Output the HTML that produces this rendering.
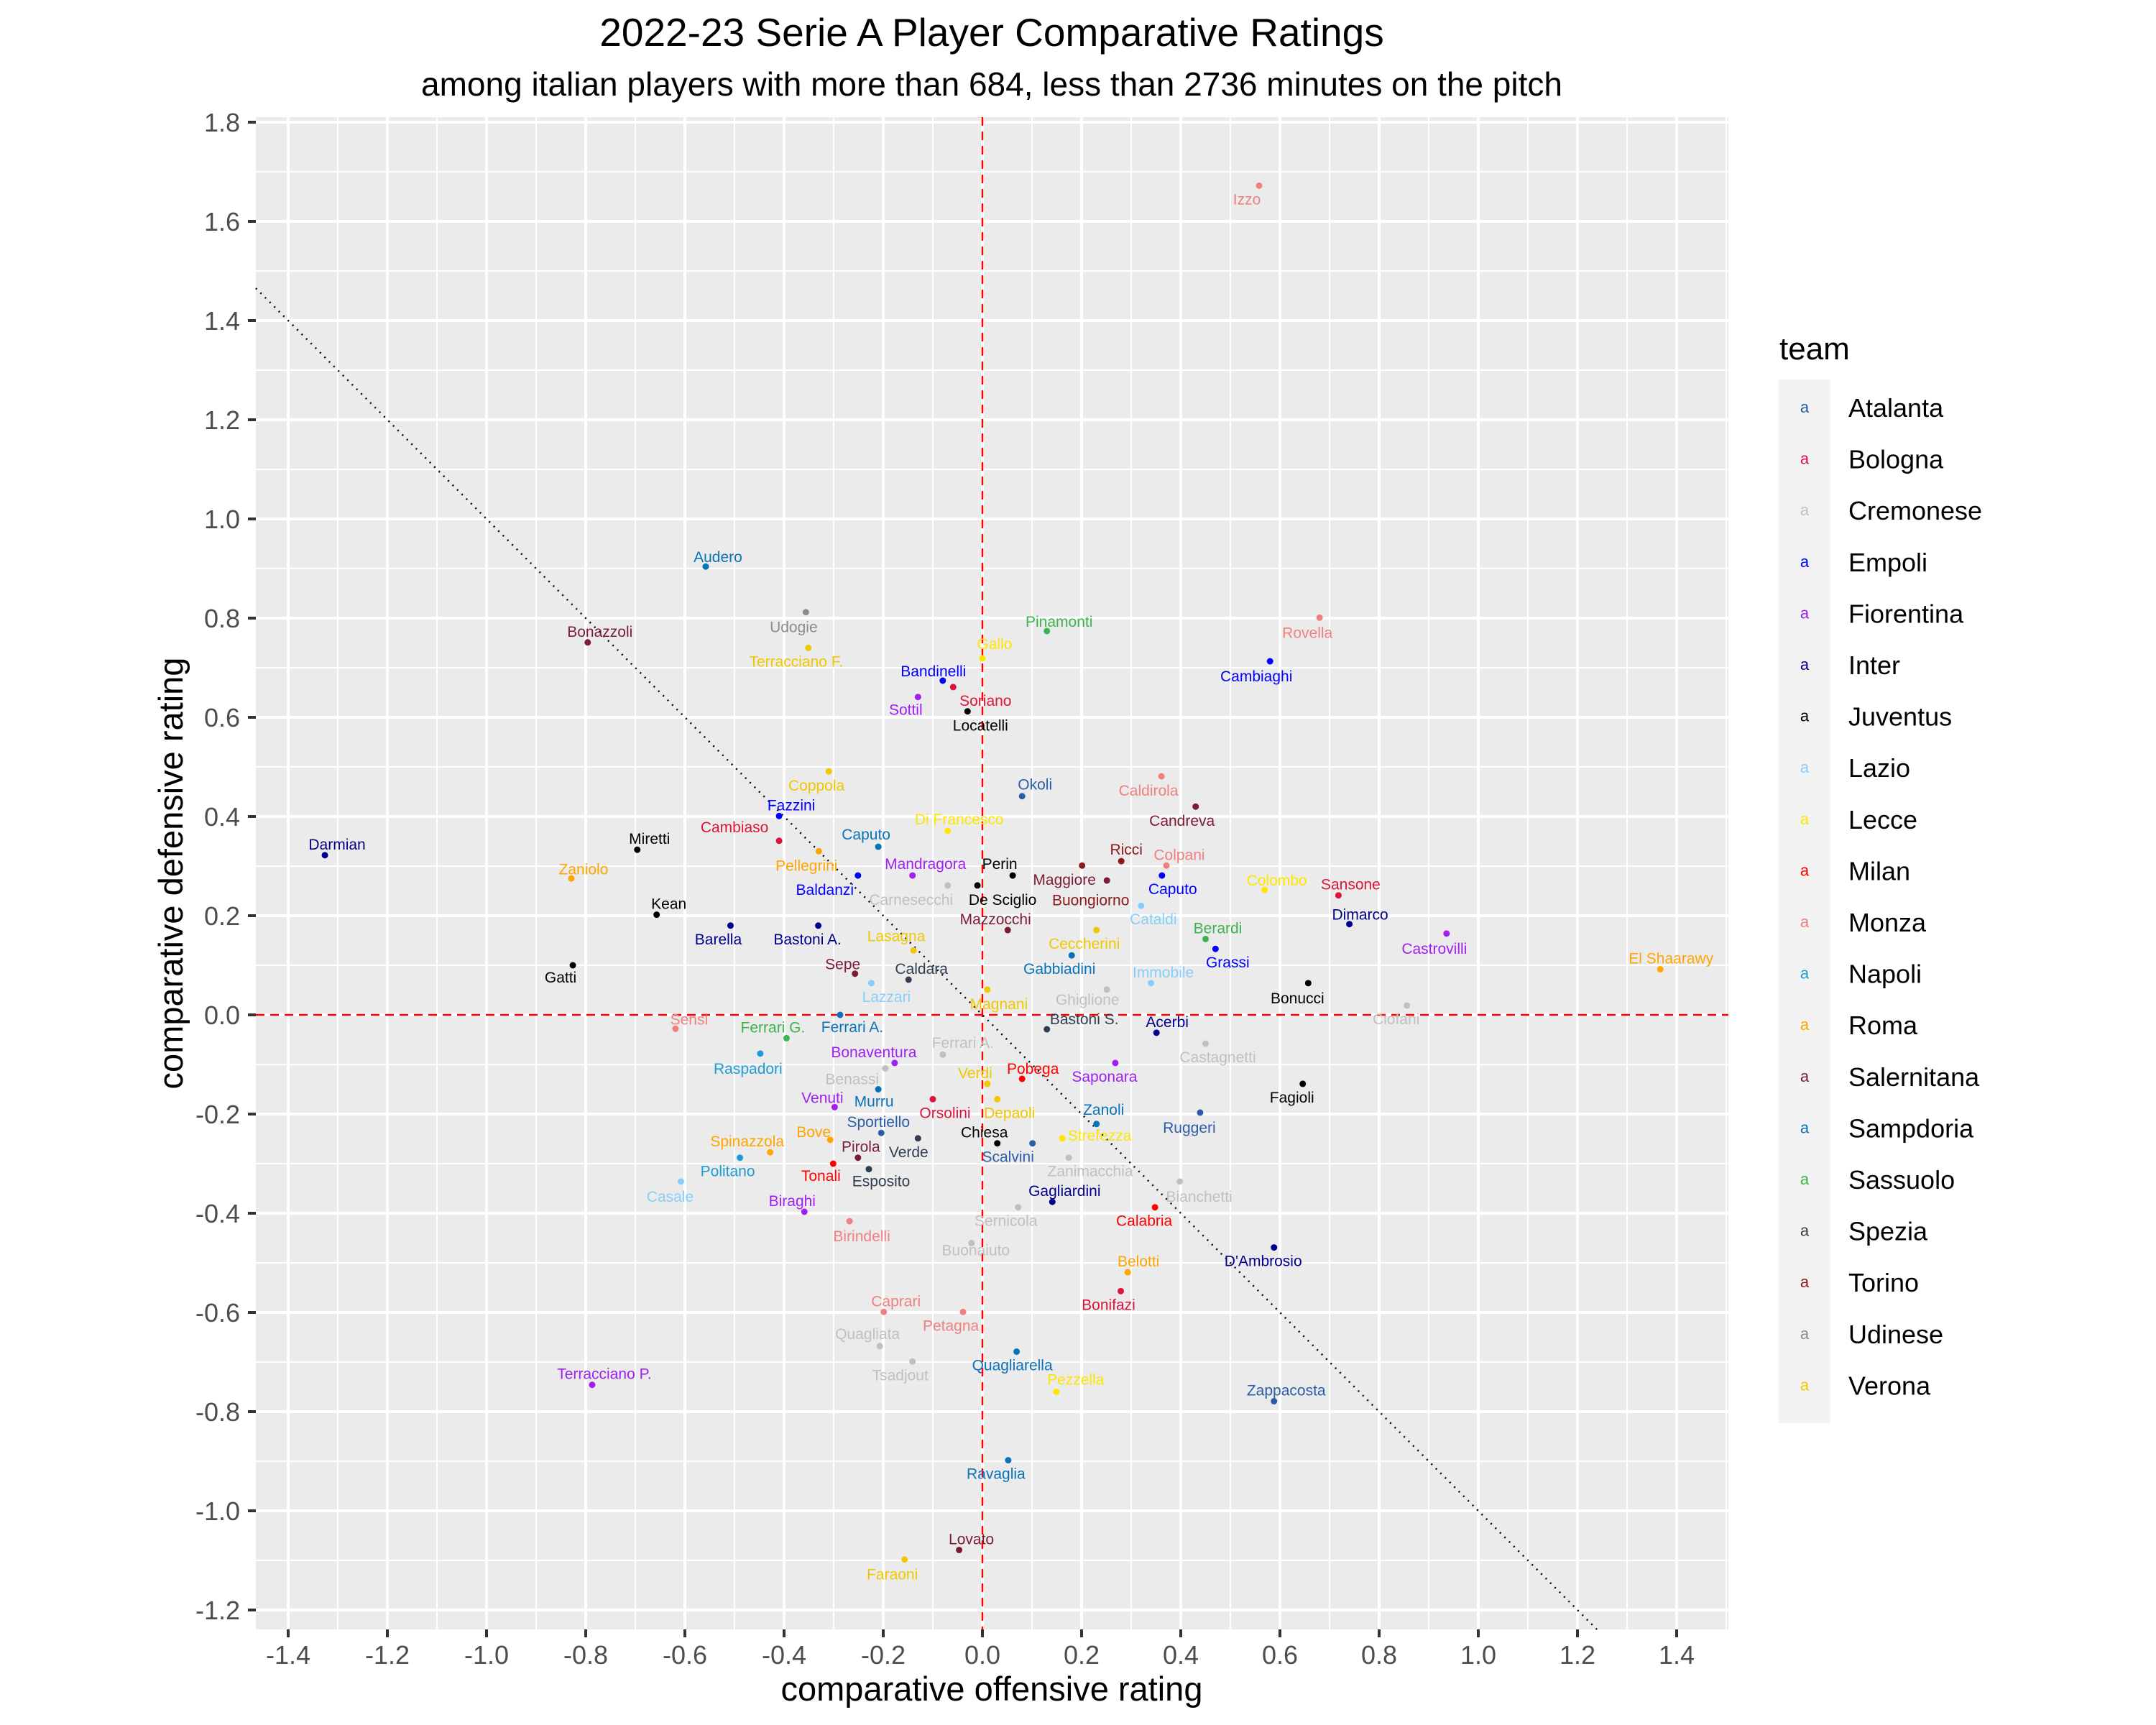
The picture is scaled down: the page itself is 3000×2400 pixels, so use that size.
<!DOCTYPE html>
<html><head><meta charset="utf-8"><style>
html,body{margin:0;padding:0;background:#fff}
svg{display:block;font-family:"Liberation Sans",Arial,sans-serif}
</style></head><body>
<svg id="chart" width="3000" height="2400" viewBox="0 0 3000 2400" xmlns="http://www.w3.org/2000/svg">
<text x="1380" y="64" text-anchor="middle" font-size="55" fill="#000">2022-23 Serie A Player Comparative Ratings</text>
<text x="1380" y="133" text-anchor="middle" font-size="46" fill="#000">among italian players with more than 684, less than 2736 minutes on the pitch</text>
<rect x="356" y="163" width="2049" height="2104" fill="#ebebeb"/>
<g id="grid"></g>
<g id="axes"></g>
<g id="refs"></g>
<g id="marks"></g>
<text x="1380" y="2366" text-anchor="middle" font-size="47" fill="#000">comparative offensive rating</text>
<text transform="translate(254,1215) rotate(-90)" text-anchor="middle" font-size="47" fill="#000">comparative defensive rating</text>
<g id="legend">
<text x="2476" y="500" font-size="44" fill="#000">team</text>
<rect x="2475" y="528" width="72" height="1436" fill="#f2f2f2"/>
</g>
</svg>
<script>
const teams = ["Atalanta","Bologna","Cremonese","Empoli","Fiorentina","Inter","Juventus","Lazio","Lecce","Milan","Monza","Napoli","Roma","Salernitana","Sampdoria","Sassuolo","Spezia","Torino","Udinese","Verona"];
const teamColors = ["#2c5ca8","#dc143c","#c0c0c0","#0000ff","#a020f0","#00008b","#000000","#87cefa","#ffe600","#ff0000","#f08080","#1e9bd7","#ffa500","#7b1c34","#0a72b8","#3cb34f","#2f3f4f","#8b1a1a","#8c8c8c","#f0c800"];
const legendTeams = ["Atalanta","Bologna","Cremonese","Empoli","Fiorentina","Inter","Juventus","Lazio","Lecce","Milan","Monza","Napoli","Roma","Salernitana","Sampdoria","Sassuolo","Spezia","Torino","Udinese","Verona"];
const xTicks = [-1.4,-1.2,-1.0,-0.8,-0.6,-0.4,-0.2,0.0,0.2,0.4,0.6,0.8,1.0,1.2,1.4];
const xTickLabels = ["-1.4","-1.2","-1.0","-0.8","-0.6","-0.4","-0.2","0.0","0.2","0.4","0.6","0.8","1.0","1.2","1.4"];
const yTicks = [-1.2,-1.0,-0.8,-0.6,-0.4,-0.2,0.0,0.2,0.4,0.6,0.8,1.0,1.2,1.4,1.6,1.8];
const yTickLabels = ["-1.2","-1.0","-0.8","-0.6","-0.4","-0.2","0.0","0.2","0.4","0.6","0.8","1.0","1.2","1.4","1.6","1.8"];
const players = ["Izzo","Audero","Udogie","Pinamonti","Rovella","Bonazzoli","Terracciano F.","Gallo","Cambiaghi","Bandinelli","Soriano","Sottil","Locatelli","Okoli","Coppola","Caldirola","Candreva","Fazzini","Di Francesco","Cambiaso","Caputo","Darmian","Miretti","Pellegrini","Ricci","Colpani","Mandragora","Perin","Zaniolo","Maggiore","Buongiorno","Caputo","Baldanzi","Colombo","Sansone","De Sciglio","Carnesecchi","Kean","Dimarco","Cataldi","Mazzocchi","Berardi","Barella","Bastoni A.","Castrovilli","Ceccherini","Lasagna","Grassi","El Shaarawy","Gatti","Sepe","Caldara","Gabbiadini","Immobile","Bonucci","Lazzari","Magnani","Ghiglione","Ciofani","Bastoni S.","Acerbi","Sensi","Ferrari A.","Ferrari G.","Ferrari A.","Bonaventura","Raspadori","Castagnetti","Verdi","Pobega","Saponara","Benassi","Fagioli","Venuti","Murru","Orsolini","Depaoli","Zanoli","Ruggeri","Sportiello","Bove","Strefezza","Chiesa","Spinazzola","Scalvini","Pirola","Verde","Politano","Tonali","Esposito","Zanimacchia","Bianchetti","Casale","Gagliardini","Biraghi","Calabria","Sernicola","Birindelli","Buonaiuto","D'Ambrosio","Belotti","Caprari","Bonifazi","Petagna","Quagliata","Quagliarella","Tsadjout","Terracciano P.","Pezzella","Zappacosta","Ravaglia","Lovato","Faraoni"];
const playerTeams = ["Monza","Sampdoria","Udinese","Sassuolo","Monza","Salernitana","Verona","Lecce","Empoli","Empoli","Bologna","Fiorentina","Juventus","Atalanta","Verona","Monza","Salernitana","Empoli","Lecce","Bologna","Sampdoria","Inter","Juventus","Roma","Torino","Monza","Fiorentina","Juventus","Roma","Salernitana","Torino","Empoli","Empoli","Lecce","Bologna","Juventus","Cremonese","Juventus","Inter","Lazio","Salernitana","Sassuolo","Inter","Inter","Fiorentina","Verona","Verona","Empoli","Roma","Juventus","Salernitana","Spezia","Sampdoria","Lazio","Juventus","Lazio","Verona","Cremonese","Cremonese","Spezia","Inter","Monza","Cremonese","Sassuolo","Sampdoria","Fiorentina","Napoli","Cremonese","Verona","Milan","Fiorentina","Cremonese","Juventus","Fiorentina","Sampdoria","Bologna","Verona","Sampdoria","Atalanta","Atalanta","Roma","Lecce","Juventus","Roma","Atalanta","Salernitana","Spezia","Napoli","Milan","Spezia","Cremonese","Cremonese","Lazio","Inter","Fiorentina","Milan","Cremonese","Monza","Cremonese","Inter","Roma","Monza","Bologna","Monza","Cremonese","Sampdoria","Cremonese","Fiorentina","Lecce","Atalanta","Sampdoria","Salernitana","Verona"];
const offensive = [0.558,-0.558,-0.356,0.130,0.680,-0.796,-0.351,0.000,0.580,-0.080,-0.059,-0.130,-0.030,0.080,-0.310,0.361,0.430,-0.410,-0.070,-0.410,-0.210,-1.326,-0.696,-0.330,0.280,0.371,-0.141,0.061,-0.829,0.251,0.201,0.362,-0.251,0.569,0.718,-0.010,-0.070,-0.657,0.740,0.320,0.051,0.450,-0.508,-0.331,0.936,0.230,-0.139,0.470,1.367,-0.826,-0.257,-0.149,0.180,0.340,0.657,-0.224,0.010,0.251,0.856,0.130,0.351,-0.619,-0.080,-0.395,-0.287,-0.177,-0.448,0.450,0.010,0.080,0.268,-0.196,0.646,-0.298,-0.210,-0.100,0.030,0.230,0.439,-0.204,-0.307,0.161,0.030,-0.428,0.101,-0.251,-0.130,-0.489,-0.301,-0.229,0.174,0.398,-0.608,0.141,-0.359,0.348,0.072,-0.268,-0.022,0.588,0.293,-0.199,0.279,-0.039,-0.207,0.069,-0.141,-0.787,0.149,0.588,0.052,-0.047,-0.157];
const defensive = [1.672,0.904,0.812,0.774,0.801,0.751,0.740,0.719,0.713,0.674,0.661,0.641,0.612,0.441,0.491,0.481,0.420,0.401,0.371,0.351,0.339,0.322,0.333,0.330,0.310,0.301,0.281,0.281,0.275,0.271,0.301,0.281,0.281,0.252,0.241,0.261,0.261,0.202,0.183,0.220,0.171,0.153,0.180,0.180,0.164,0.171,0.130,0.133,0.092,0.100,0.083,0.071,0.120,0.064,0.064,0.064,0.051,0.051,0.019,-0.029,-0.036,-0.028,-0.080,-0.047,0.000,-0.097,-0.078,-0.058,-0.139,-0.129,-0.097,-0.108,-0.139,-0.186,-0.150,-0.170,-0.170,-0.220,-0.197,-0.238,-0.252,-0.249,-0.259,-0.277,-0.259,-0.288,-0.249,-0.288,-0.300,-0.311,-0.288,-0.336,-0.336,-0.377,-0.397,-0.388,-0.388,-0.416,-0.460,-0.469,-0.519,-0.599,-0.557,-0.599,-0.668,-0.679,-0.699,-0.746,-0.760,-0.779,-0.898,-1.079,-1.098];
// label layout offsets (pixels), not data
const labelOffsets = [[-17,19],[17,-13],[-17,21],[17,-13],[-17,21],[17,-15],[-17,19],[17,-20],[-19,21],[-13,-13],[45,19],[-17,18],[18,20],[18,-16],[-17,20],[-18,20],[-19,20],[17,-15],[16,-16],[-62,-19],[-17,-17],[17,-15],[17,-15],[-17,20],[7,-16],[18,-15],[18,-16],[-18,-16],[17,-13],[-59,-1],[12,48],[15,19],[-46,20],[17,-13],[17,-15],[35,20],[-51,20],[17,-15],[15,-13],[17,19],[-17,-15],[17,-15],[-17,19],[-15,19],[-17,21],[-17,19],[-24,-20],[17,19],[15,-15],[-17,17],[-17,-13],[18,-15],[-17,19],[17,-15],[-15,21],[21,19],[16,20],[-27,14],[-15,19],[52,-14],[15,-15],[19,-13],[28,-16],[-19,-15],[17,17],[-29,-15],[-17,21],[17,19],[-17,-15],[15,-14],[-15,19],[-46,15],[-15,19],[-17,-13],[-6,17],[17,19],[17,19],[10,-20],[-15,21],[-4,-15],[-23,-11],[52,-4],[-18,-15],[-32,-15],[-34,19],[4,-15],[-13,19],[-17,19],[-17,17],[17,17],[30,19],[27,21],[-15,21],[17,-15],[-17,-15],[-15,19],[-17,19],[17,21],[6,10],[-15,19],[15,-15],[17,-15],[-17,19],[-17,19],[-17,-17],[-6,19],[-17,19],[17,-15],[27,-17],[17,-15],[-17,19],[17,-15],[-17,21]];

const NS = "http://www.w3.org/2000/svg";
const P = {left:356, right:2405, top:163, bottom:2267};
const X0 = 1367, Y0 = 1412, K = 690;
function sx(v){ return X0 + v*K; }
function sy(v){ return Y0 - v*K; }
function invx(px){ return (px - X0)/K; }
function invy(py){ return (Y0 - py)/K; }
function mk(tag, attrs, parent){
  const e = document.createElementNS(NS, tag);
  for (const k in attrs) e.setAttribute(k, attrs[k]);
  parent.appendChild(e);
  return e;
}
function colorOf(team){ return teamColors[teams.indexOf(team)]; }

const grid = document.getElementById('grid');
for (let i = 0; i < xTicks.length - 1; i++) {
  const l = mk('line', {x1: sx((xTicks[i]+xTicks[i+1])/2), x2: sx((xTicks[i]+xTicks[i+1])/2), y1: P.top, y2: P.bottom, stroke:'#fff', 'stroke-width':2}, grid);
  
  
}
for (let i = 0; i < yTicks.length - 1; i++) {
  const l = mk('line', {y1: sy((yTicks[i]+yTicks[i+1])/2), y2: sy((yTicks[i]+yTicks[i+1])/2), x1: P.left, x2: P.right, stroke:'#fff', 'stroke-width':2}, grid);
  
  
}
[sx(-1.5), sx(1.5)].forEach(function(px){ if (px > P.left && px < P.right) { const l = mk('line',{x1:px,x2:px,y1:P.top,y2:P.bottom,stroke:'#fff','stroke-width':2},grid);   } });
[sy(1.9), sy(-1.3)].forEach(function(py){ if (py > P.top && py < P.bottom) { const l = mk('line',{y1:py,y2:py,x1:P.left,x2:P.right,stroke:'#fff','stroke-width':2},grid);   } });

const axes = document.getElementById('axes');
xTicks.forEach(function(v, i){
  const gl = mk('line', {x1:sx(v), x2:sx(v), y1:P.top, y2:P.bottom, stroke:'#fff', 'stroke-width':4}, grid);
  
  
  const tk = mk('line', {x1:sx(v), x2:sx(v), y1:P.bottom, y2:P.bottom+11, stroke:'#333', 'stroke-width':4}, axes);
  
  
  const t = mk('text', {x:sx(v), y:2315, 'text-anchor':'middle', 'font-size':36, fill:'#4d4d4d'}, axes);
  t.textContent = xTickLabels[i];
  
  
});
yTicks.forEach(function(v, i){
  const gl = mk('line', {y1:sy(v), y2:sy(v), x1:P.left, x2:P.right, stroke:'#fff', 'stroke-width':4}, grid);
  
  
  const tk = mk('line', {y1:sy(v), y2:sy(v), x1:P.left-11, x2:P.left, stroke:'#333', 'stroke-width':4}, axes);
  
  
  const t = mk('text', {x:334, y:sy(v)+13, 'text-anchor':'end', 'font-size':36, fill:'#4d4d4d'}, axes);
  t.textContent = yTickLabels[i];
  
  
});

const refs = document.getElementById('refs');
const vline = mk('line', {x1:sx(0), x2:sx(0), y1:P.top, y2:P.bottom, stroke:'#ff0000', 'stroke-width':2.5, 'stroke-dasharray':'12,8'}, refs);


const hline = mk('line', {y1:sy(0), y2:sy(0), x1:P.left, x2:P.right, stroke:'#ff0000', 'stroke-width':2.5, 'stroke-dasharray':'12,8'}, refs);


const xa = invx(P.left), xb = -invy(P.bottom);
const diag = mk('line', {x1:sx(xa), y1:sy(-xa), x2:sx(xb), y2:sy(-xb), stroke:'#000', 'stroke-width':2.5, 'stroke-dasharray':'2,7'}, refs);



const marks = document.getElementById('marks');
players.forEach(function(name, i){
  const c = colorOf(playerTeams[i]);
  const px = sx(offensive[i]), py = sy(defensive[i]);
  const dot = mk('circle', {cx:px, cy:py, r:4.5, fill:c}, marks);
  
  
  const off = labelOffsets[i] || [0,-18];
  const t = mk('text', {x:px+off[0], y:py+off[1]+7, 'text-anchor':'middle', 'font-size':21, fill:c}, marks);
  t.textContent = name;
  
  
});

const legend = document.getElementById('legend');
const legendBg = legend.querySelector('rect');
legendBg.setAttribute('height', String(20 + legendTeams.length * 71.6));
legendTeams.forEach(function(team, i){
  const y = 567 + i*71.6;
  const k = mk('text', {x:2511, y:y+7, 'text-anchor':'middle', 'font-size':22, fill:colorOf(team)}, legend);
  k.textContent = 'a';
  
  
  const t = mk('text', {x:2572, y:y+13, 'font-size':36, fill:'#000'}, legend);
  t.textContent = team;
  
  
});
</script>
</body></html>
